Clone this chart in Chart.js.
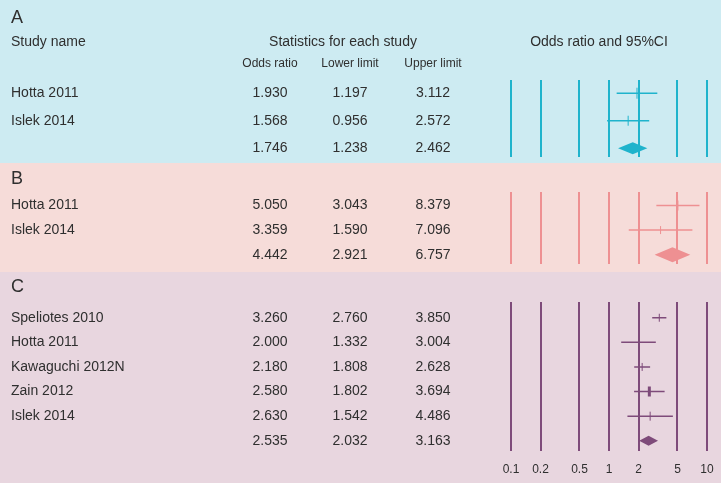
<!DOCTYPE html>
<html>
<head>
<meta charset="utf-8">
<title>Forest plot</title>
<script src="https://cdn.jsdelivr.net/npm/chart.js@4"></script>
<style>
  html, body { margin: 0; padding: 0; background: #fff; }
  canvas { display: block; }
</style>
</head>
<body>
<canvas id="panelA" width="721" height="163" style="background:#cdebf2"></canvas>
<canvas id="panelB" width="721" height="109" style="background:#f6dcd9"></canvas>
<canvas id="panelC" width="721" height="211" style="background:#e8d6df"></canvas>
<script>
/* Forest plot — odds ratios with 95% CI, three subgroups */

// panel A
const studiesA = ['Hotta 2011', 'Islek 2014'];
const oddsA    = [1.930, 1.568];
const lowerA   = [1.197, 0.956];
const upperA   = [3.112, 2.572];
const pooledA  = [1.746, 1.238, 2.462];   // odds ratio, lower, upper

// panel B
const studiesB = ['Hotta 2011', 'Islek 2014'];
const oddsB    = [5.050, 3.359];
const lowerB   = [3.043, 1.590];
const upperB   = [8.379, 7.096];
const pooledB  = [4.442, 2.921, 6.757];

// panel C
const studiesC = ['Speliotes 2010', 'Hotta 2011', 'Kawaguchi 2012N', 'Zain 2012', 'Islek 2014'];
const oddsC    = [3.260, 2.000, 2.180, 2.580, 2.630];
const lowerC   = [2.760, 1.332, 1.808, 1.802, 1.542];
const upperC   = [3.850, 3.004, 2.628, 3.694, 4.486];
const pooledC  = [2.535, 2.032, 3.163];

const axisTicks = [0.1, 0.2, 0.5, 1, 2, 5, 10];

const FONT = '"Liberation Sans", Arial, Helvetica, sans-serif';
const TEXT = '#2f2f2f';
const COL_X = [270, 350, 433];   // centres of the three number columns

function forestPlugin(p) {
  return {
    id: 'forest',
    afterDatasetsDraw(chart) {
      const { ctx, scales: { x, y } } = chart;
      const row = y.getPixelForValue(p.studies.length + 1);
      const [or, lo, hi] = p.pooled;
      ctx.save();
      ctx.fillStyle = p.color;
      ctx.beginPath();
      ctx.moveTo(x.getPixelForValue(lo), row);
      ctx.lineTo(x.getPixelForValue(or), row - p.diamond);
      ctx.lineTo(x.getPixelForValue(hi), row);
      ctx.lineTo(x.getPixelForValue(or), row + p.diamond);
      ctx.closePath();
      ctx.fill();
      ctx.restore();
    },
    afterDraw(chart) {
      const { ctx, scales: { y } } = chart;
      ctx.save();
      ctx.fillStyle = TEXT;
      ctx.textBaseline = 'middle';

      ctx.font = '18px ' + FONT;
      ctx.textAlign = 'left';
      ctx.fillText(p.letter, 11, p.letterY);

      if (p.header) {
        ctx.font = '14px ' + FONT;
        ctx.fillText('Study name', 11, 42);
        ctx.textAlign = 'center';
        ctx.fillText('Statistics for each study', 343, 42);
        ctx.fillText('Odds ratio and 95%CI', 599, 42);
        ctx.font = '12px ' + FONT;
        ['Odds ratio', 'Lower limit', 'Upper limit'].forEach((t, i) => ctx.fillText(t, COL_X[i], 63.5));
      }

      const cells = (vals, ry) => {
        ctx.textAlign = 'center';
        vals.forEach((v, i) => ctx.fillText(v.toFixed(3), COL_X[i], ry));
      };
      ctx.font = '14px ' + FONT;
      p.studies.forEach((name, i) => {
        const ry = y.getPixelForValue(i + 1);
        ctx.textAlign = 'left';
        ctx.fillText(name, 11, ry);
        cells([p.odds[i], p.lower[i], p.upper[i]], ry);
      });
      cells(p.pooled, y.getPixelForValue(p.studies.length + 1));
      ctx.restore();
    }
  };
}

function makePanel(id, p) {
  const datasets = p.studies.map((name, i) => ({
    type: 'line',
    label: name,
    data: [{ x: p.lower[i], y: i + 1 }, { x: p.upper[i], y: i + 1 }],
    borderColor: p.color,
    borderWidth: 1.5,
    pointRadius: 0
  }));
  datasets.push({
    type: 'scatter',
    label: 'Odds ratio',
    data: p.odds.map((v, i) => ({ x: v, y: i + 1 })),
    pointStyle: 'line',
    pointRotation: 90,
    pointRadius: p.tickSize,
    pointBorderWidth: p.tickWidth,
    pointBorderColor: p.color
  });

  return new Chart(document.getElementById(id), {
    type: 'scatter',
    data: { datasets },
    options: {
      responsive: false,
      animation: false,
      events: [],
      layout: { padding: { left: 511, right: 14, top: p.top, bottom: p.bottom } },
      plugins: { legend: { display: false }, tooltip: { enabled: false } },
      scales: {
        x: {
          type: 'logarithmic',
          min: 0.1,
          max: 10,
          afterBuildTicks: s => { s.ticks = axisTicks.map(v => ({ value: v })); },
          // keep the plot edges the same in every panel, labels or not
          afterFit: s => { s.paddingLeft = 0; s.paddingRight = 0; },
          grid: { color: p.color, lineWidth: 2, drawTicks: false },
          border: { display: false },
          ticks: {
            display: !!p.showTicks,
            color: TEXT,
            padding: 12,
            font: { family: FONT, size: 12 },
            maxRotation: 0,
            autoSkip: false,
            callback: v => String(v)
          }
        },
        y: { type: 'linear', reverse: true, min: p.yMin, max: p.yMax, display: false }
      }
    },
    plugins: [forestPlugin(p)]
  });
}

makePanel('panelA', {
  letter: 'A', letterY: 18, header: true,
  studies: studiesA, odds: oddsA, lower: lowerA, upper: upperA, pooled: pooledA,
  color: '#1fb3cc', top: 80, bottom: 6, yMin: 0.52, yMax: 3.3,
  diamond: 6, tickSize: [5.5, 5], tickWidth: [1, 1]
});

makePanel('panelB', {
  letter: 'B', letterY: 16,
  studies: studiesB, odds: oddsB, lower: lowerB, upper: upperB, pooled: pooledB,
  color: '#ee9092', top: 29, bottom: 8, yMin: 0.45, yMax: 3.38,
  diamond: 7.5, tickSize: [5, 4], tickWidth: [1, 1]
});

makePanel('panelC', {
  letter: 'C', letterY: 15, showTicks: true,
  studies: studiesC, odds: oddsC, lower: lowerC, upper: upperC, pooled: pooledC,
  color: '#7e4b7a', top: 30, bottom: -6, yMin: 0.36, yMax: 6.4,
  diamond: 5, tickSize: [4, 5, 4, 5, 4.5], tickWidth: [1, 1, 1, 3, 1]
});
</script>
</body>
</html>
